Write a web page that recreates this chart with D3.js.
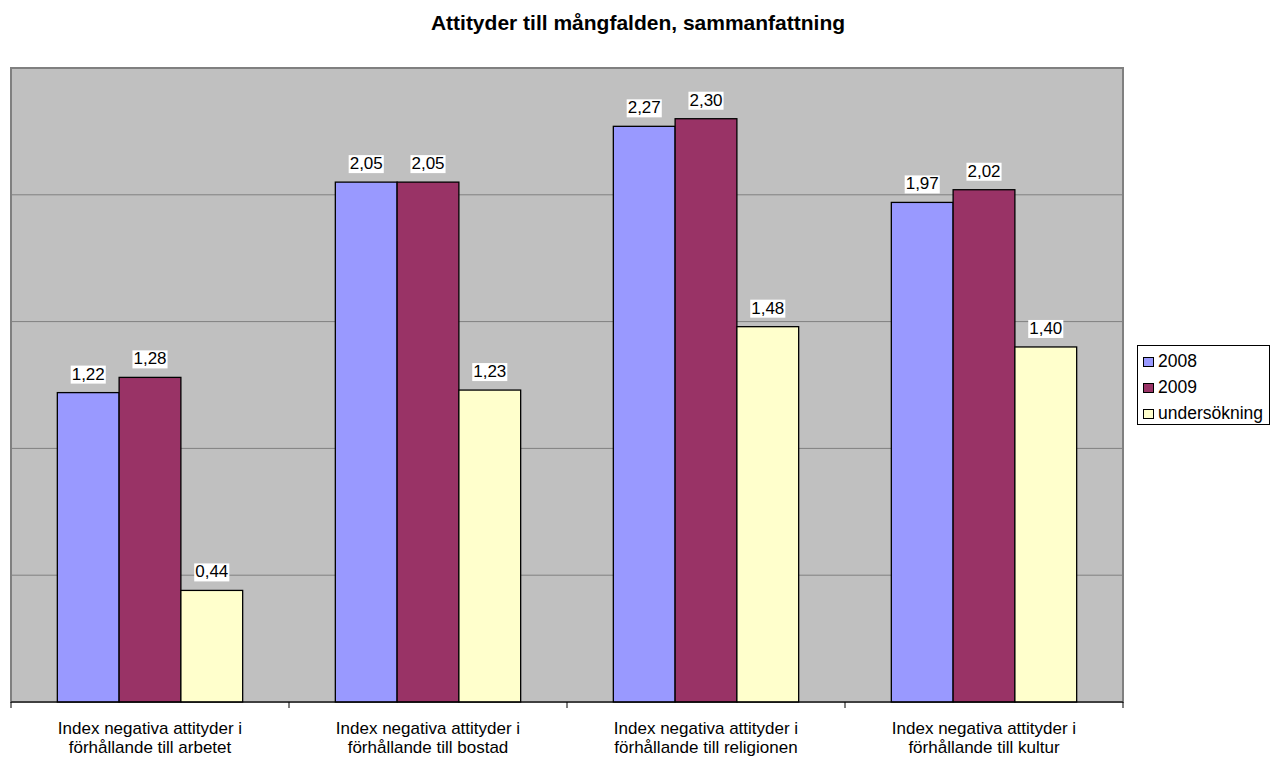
<!DOCTYPE html>
<html><head><meta charset="utf-8">
<script src="https://cdn.jsdelivr.net/npm/d3@7"></script>
<style>body{margin:0;background:#fff}svg{display:block;font-family:"Liberation Sans",Arial,sans-serif}</style>
</head><body><svg id="c" width="1271" height="758"></svg>
<script>
const categories = ["Index negativa attityder i\nförhållande till arbetet","Index negativa attityder i\nförhållande till bostad","Index negativa attityder i\nförhållande till religionen","Index negativa attityder i\nförhållande till kultur"];
const seriesNames = ["2008","2009","undersökning"];
const values2008 = [1.22,2.05,2.27,1.97];
const values2009 = [1.28,2.05,2.30,2.02];
const valuesUnd = [0.44,1.23,1.48,1.40];
const seriesColors = ["#9999ff","#993366","#ffffcc"];
const gridTicks = [0.5,1.0,1.5,2.0,2.5];
const series = [values2008, values2009, valuesUnd];

const svg = d3.select("#c");
const L=11, R=1123, T=68, B=702;
const x = d3.scaleBand().domain(d3.range(categories.length)).range([L,R]).paddingInner(0).paddingOuter(0);
const y = d3.scaleLinear().domain([0,2.5]).range([B,T]);
const bw = x.bandwidth();
const barW = bw/4.5;
const off = bw*0.75/4.5;

svg.append("rect").attr("x",L).attr("y",T).attr("width",R-L).attr("height",B-T).attr("fill","#c0c0c0");
svg.append("g").selectAll("line").data(gridTicks).join("line")
  .attr("x1",L).attr("x2",R).attr("y1",d=>y(d)).attr("y2",d=>y(d)).attr("stroke","#808080").attr("stroke-width",1);
svg.append("rect").attr("x",L).attr("y",T).attr("width",R-L).attr("height",B-T).attr("fill","none").attr("stroke","#808080").attr("stroke-width",2);

const g = svg.append("g");
series.forEach((vals,si)=>{
  g.selectAll(null).data(vals).join("rect")
    .attr("x",(d,i)=>x(i)+off+si*barW)
    .attr("y",d=>y(d)).attr("width",barW).attr("height",d=>B-y(d))
    .attr("fill",seriesColors[si]).attr("stroke","#000").attr("stroke-width",1.3);
});
series.forEach((vals,si)=>{
  vals.forEach((d,i)=>{
    const cx = x(i)+off+si*barW+barW/2;
    const t = d.toFixed(2).replace(".",",");
    const lg = g.append("g");
    const tx = lg.append("text").attr("x",cx).attr("y",y(d)-13).attr("text-anchor","middle").attr("font-size",17).text(t);
    const bb = tx.node().getBBox();
    lg.insert("rect","text").attr("x",bb.x-1).attr("y",bb.y+1).attr("width",bb.width+2).attr("height",bb.height-1).attr("fill","#fff");
  });
});

// x axis
const ax = svg.append("g");
ax.append("line").attr("x1",L).attr("x2",R).attr("y1",B).attr("y2",B).attr("stroke","#000").attr("stroke-width",1);
d3.range(categories.length+1).forEach(i=>{
  const xx = i<categories.length? x(i): R;
  ax.append("line").attr("x1",xx).attr("x2",xx).attr("y1",B).attr("y2",B+6).attr("stroke","#000");
});
categories.forEach((c,i)=>{
  const lines=c.split("\n");
  lines.forEach((ln,j)=>{
    ax.append("text").attr("x",x(i)+bw/2).attr("y",734+j*19).attr("text-anchor","middle").attr("font-size",17).text(ln);
  });
});

svg.append("text").attr("x",638).attr("y",30).attr("text-anchor","middle").attr("font-size",21).attr("font-weight","bold").text("Attityder till mångfalden, sammanfattning");

// legend
const lgd = svg.append("g");
lgd.append("rect").attr("x",1137.5).attr("y",345.5).attr("width",132).attr("height",79).attr("fill","#fff").attr("stroke","#000");
seriesNames.forEach((n,i)=>{
  const yy = 367+i*26;
  lgd.append("rect").attr("x",1143.5).attr("y",yy-9.5).attr("width",10).attr("height",9).attr("fill",seriesColors[i]).attr("stroke","#000");
  lgd.append("text").attr("x",1158).attr("y",yy).attr("font-size",17.5).text(n);
});
</script></body></html>
